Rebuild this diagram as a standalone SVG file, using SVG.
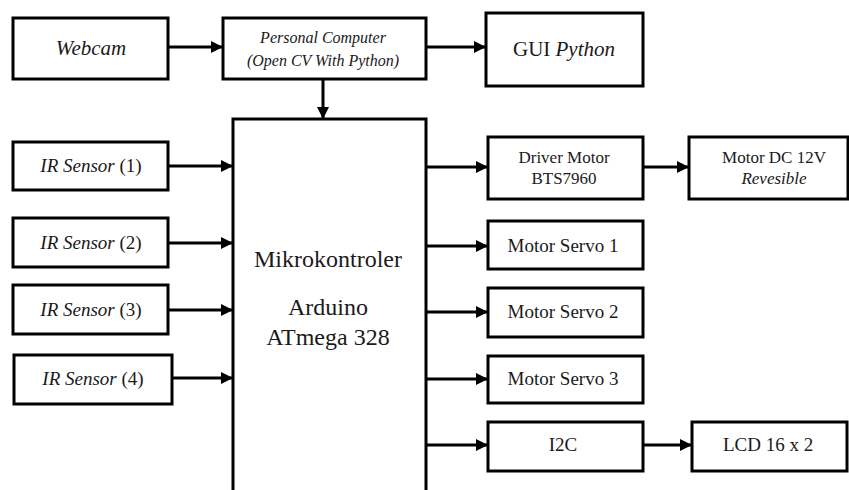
<svg xmlns="http://www.w3.org/2000/svg" width="849" height="490" viewBox="0 0 849 490">
<style>
rect{fill:#fff;stroke:#000;stroke-width:3}
text{font-family:"Liberation Serif","Times New Roman",serif;fill:#1a1a1a;text-anchor:middle}
.i{font-style:italic}
#connectors line{stroke:#000;stroke-width:3;marker-end:url(#ah)}
</style>
<defs>
<marker id="ah" viewBox="0 0 10 10" refX="10" refY="5" markerWidth="12" markerHeight="12" markerUnits="userSpaceOnUse" orient="auto">
<path d="M0,0 L10,5 L0,10 z" fill="#000"/>
</marker>
</defs>
<g id="connectors">
<line x1="168" y1="47" x2="223" y2="47"/>
<line x1="426" y1="47" x2="486" y2="47"/>
<line x1="323" y1="79" x2="323" y2="119"/>
<line x1="168" y1="166" x2="233" y2="166"/>
<line x1="168" y1="243" x2="233" y2="243"/>
<line x1="168" y1="310" x2="233" y2="310"/>
<line x1="172" y1="378" x2="233" y2="378"/>
<line x1="426" y1="167" x2="488" y2="167"/>
<line x1="643" y1="167" x2="689" y2="167"/>
<line x1="426" y1="246" x2="488" y2="246"/>
<line x1="426" y1="312" x2="488" y2="312"/>
<line x1="426" y1="379" x2="488" y2="379"/>
<line x1="426" y1="445" x2="488" y2="445"/>
<line x1="643" y1="445" x2="692" y2="445"/>
</g>
<g id="webcam"><rect x="13" y="18" width="155" height="61"/><text x="91" y="55" class="i" font-size="21">Webcam</text></g>
<g id="pc"><rect x="223" y="18" width="203" height="61"/><text x="323" y="43" class="i" font-size="16">Personal Computer</text><text x="323" y="66" class="i" font-size="16">(Open CV With Python)</text></g>
<g id="gui"><rect x="486" y="13" width="157" height="73"/><text x="564" y="56" font-size="21">GUI <tspan class="i">Python</tspan></text></g>
<g id="mikro"><path d="M233,492 V119 H426 V492" fill="#fff" stroke="#000" stroke-width="3"/>
<text x="328" y="267" font-size="24">Mikrokontroler</text>
<text x="328" y="315" font-size="24">Arduino</text>
<text x="328" y="345" font-size="24">ATmega 328</text></g>
<g id="ir1"><rect x="13" y="142" width="155" height="48"/><text x="91" y="172" font-size="19"><tspan class="i">IR Sensor</tspan> (1)</text></g>
<g id="ir2"><rect x="13" y="218" width="155" height="49"/><text x="91" y="249" font-size="19"><tspan class="i">IR Sensor</tspan> (2)</text></g>
<g id="ir3"><rect x="13" y="285" width="155" height="49"/><text x="91" y="316" font-size="19"><tspan class="i">IR Sensor</tspan> (3)</text></g>
<g id="ir4"><rect x="14" y="355" width="158" height="49"/><text x="93" y="385" font-size="19"><tspan class="i">IR Sensor</tspan> (4)</text></g>
<g id="driver"><rect x="488" y="137" width="155" height="62"/><text x="564" y="163" font-size="17">Driver Motor</text><text x="564" y="184" font-size="17">BTS7960</text></g>
<g id="motordc"><rect x="689" y="137" width="159" height="62"/><text x="774" y="163" font-size="17">Motor DC 12V</text><text x="774" y="184" class="i" font-size="17">Revesible</text></g>
<g id="servo1"><rect x="488" y="221" width="155" height="48"/><text x="563" y="252" font-size="19">Motor Servo 1</text></g>
<g id="servo2"><rect x="488" y="288" width="155" height="49"/><text x="563" y="318" font-size="19">Motor Servo 2</text></g>
<g id="servo3"><rect x="488" y="356" width="155" height="47"/><text x="563" y="385" font-size="19">Motor Servo 3</text></g>
<g id="i2c"><rect x="488" y="422" width="155" height="49"/><text x="563" y="451" font-size="19">I2C</text></g>
<g id="lcd"><rect x="692" y="422" width="155" height="49"/><text x="768" y="451" font-size="19">LCD 16 x 2</text></g>
</svg>
